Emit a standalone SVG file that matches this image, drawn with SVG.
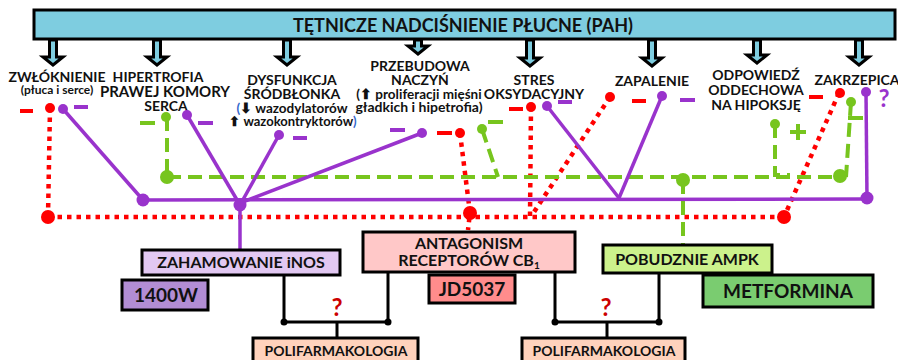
<svg xmlns="http://www.w3.org/2000/svg" width="898" height="360" viewBox="0 0 898 360">
<style>
text{font-family:Lato,"Open Sans","Liberation Sans",sans-serif;font-weight:bold;fill:#111;text-anchor:middle}
.h{font-size:14px}
.b{font-size:19px}
.m{font-size:16px}
.arr{fill:#7ECDE0;stroke:#000;stroke-width:3;stroke-linejoin:miter}
.red{stroke:#FF0000;stroke-width:4.5;stroke-dasharray:4.5 5;fill:none}
.pur{stroke:#9933CC;stroke-width:3.5;fill:none}
.grn{stroke:#77C51E;stroke-width:4;stroke-dasharray:14 7;fill:none}
.rdash{stroke:#FF0000;stroke-width:4}
.pdash{stroke:#9933CC;stroke-width:4}
.gdash{stroke:#77C51E;stroke-width:4}
.rn{fill:#FF0000}
.pn{fill:#9933CC}
.gn{fill:#77C51E}
.box{stroke:#000;stroke-width:3}
.blk{stroke:#000;stroke-width:3;fill:none}
.q{font-size:24px;fill:#CC0000}
.poli{font-size:14px}
</style>

<g id="banner">
<rect x="34" y="10" width="861" height="29" fill="#7ECDE0" stroke="#000" stroke-width="3"/>
<text x="463" y="32" style="font-size:18px">TĘTNICZE NADCIŚNIENIE PŁUCNE (PAH)</text>
</g>

<g id="arrows">
<polygon class="arr" points="49.5,40 56.5,40 56.5,57 63,57 53,65 43,57 49.5,57"/>
<polygon class="arr" points="153.5,40 160.5,40 160.5,57 167,57 157,65 147,57 153.5,57"/>
<polygon class="arr" points="283.5,40 290.5,40 290.5,57 297,57 287,65 277,57 283.5,57"/>
<polygon class="arr" points="414.5,40 421.5,40 421.5,46 428,46 418,54 408,46 414.5,46"/>
<polygon class="arr" points="526.5,40 533.5,40 533.5,58 540,58 530,66 520,58 526.5,58"/>
<polygon class="arr" points="648.5,40 655.5,40 655.5,58 662,58 652,66 642,58 648.5,58"/>
<polygon class="arr" points="753.5,40 760.5,40 760.5,55 767,55 757,63 747,55 753.5,55"/>
<polygon class="arr" points="855.5,40 862.5,40 862.5,57 869,57 859,65 849,57 855.5,57"/>
</g>

<g id="connectors">
<line class="red" x1="48" y1="217" x2="784" y2="217"/>
<line class="red" x1="50" y1="108" x2="48" y2="217"/>
<polyline class="red" points="460,133 470,213 468,230"/>
<line class="red" x1="531" y1="107" x2="530" y2="217"/>
<line class="red" x1="610" y1="97" x2="532" y2="215"/>
<line class="red" x1="839" y1="93" x2="784" y2="217"/>
<line class="grn" x1="167" y1="177" x2="840" y2="177"/>
<line class="grn" x1="167" y1="117" x2="167" y2="177"/>
<line class="grn" x1="482" y1="129" x2="498" y2="177"/>
<polyline class="grn" points="775,124 775,175 790,175"/>
<line class="grn" x1="851" y1="102" x2="846" y2="177" stroke-dasharray="14 6"/>
<line class="gdash" x1="848" y1="118" x2="863" y2="118"/>
<line class="grn" x1="683" y1="180" x2="683" y2="245"/>
<line class="pur" x1="143" y1="200" x2="867" y2="199"/>
<line class="pur" x1="63" y1="109" x2="143" y2="200"/>
<line class="pur" x1="187" y1="115" x2="240" y2="205"/>
<line class="pur" x1="279" y1="135" x2="240" y2="205"/>
<line class="pur" x1="422" y1="133" x2="240" y2="203"/>
<line class="pur" x1="240" y1="205" x2="240" y2="250"/>
<line class="pur" x1="547" y1="106" x2="619" y2="198"/>
<line class="pur" x1="662" y1="96" x2="619" y2="198"/>
<line class="pur" x1="866" y1="92" x2="867" y2="199"/>
<circle class="rn" cx="48" cy="217" r="7"/>
<circle class="rn" cx="470" cy="213" r="7"/>
<circle class="rn" cx="784" cy="217" r="7"/>
<circle class="gn" cx="167" cy="177" r="7"/>
<circle class="gn" cx="683" cy="180" r="7"/>
<circle class="gn" cx="840" cy="176" r="7"/>
<circle class="pn" cx="143" cy="200" r="6.5"/>
<circle class="pn" cx="240" cy="205" r="6.5"/>
<circle class="pn" cx="867" cy="198" r="6.5"/>
<polyline class="blk" points="284,275 284,322 388,322 388,272"/>
<line class="blk" x1="337" y1="322" x2="337" y2="338"/>
<circle cx="284" cy="322" r="3.5"/>
<circle cx="388" cy="322" r="3.5"/>
<polyline class="blk" points="555,272 555,322 659,322 659,273"/>
<line class="blk" x1="607" y1="322" x2="607" y2="338"/>
<circle cx="555" cy="322" r="3.5"/>
<circle cx="659" cy="322" r="3.5"/>
</g>

<g id="zwloknienie">
<text x="57" y="82"><tspan class="h">ZWŁÓKNIENIE</tspan><tspan x="57" dy="12" style="font-size:12px">(płuca i serce)</tspan></text>
<line class="rdash" x1="20" y1="111" x2="33" y2="111"/>
<circle class="rn" cx="50" cy="108" r="5"/>
<circle class="pn" cx="63" cy="109" r="5"/>
<line class="pdash" x1="74" y1="107" x2="88" y2="107"/>
</g>

<g id="hipertrofia">
<text class="h" x="158" y="82">HIPERTROFIA<tspan x="165" dy="15" style="font-size:15px">PRAWEJ KOMORY</tspan><tspan x="166" dy="14">SERCA</tspan></text>
<line class="gdash" x1="140" y1="123" x2="155" y2="123"/>
<circle class="gn" cx="166" cy="117" r="5"/>
<circle class="pn" cx="187" cy="115" r="5"/>
<line class="pdash" x1="198" y1="123" x2="213" y2="123"/>
</g>

<g id="dysfunkcja">
<text class="h" x="292" y="85">DYSFUNKCJA<tspan x="292" dy="14">ŚRÓDBŁONKA</tspan><tspan x="292" dy="14" style="font-size:13.5px"><tspan fill="#3366CC">(</tspan>⬇ wazodylatorów</tspan><tspan x="293" dy="13" style="font-size:13px">⬆ wazokontryktorów<tspan fill="#3366CC">)</tspan></tspan></text>
<circle class="pn" cx="279" cy="135" r="5"/>
<line class="pdash" x1="293" y1="138" x2="307" y2="138"/>
</g>

<g id="przebudowa">
<text class="h" x="420" y="71">PRZEBUDOWA<tspan x="420" dy="14">NACZYŃ</tspan><tspan x="419" dy="14" style="font-size:13.5px">(⬆ proliferacji mięśni</tspan><tspan x="419" dy="13" style="font-size:14px">gładkich i hipetrofia)</tspan></text>
<line class="pdash" x1="390" y1="130" x2="405" y2="130"/>
<circle class="pn" cx="422" cy="133" r="5"/>
<line class="rdash" x1="437" y1="133" x2="452" y2="133"/>
<circle class="rn" cx="460" cy="133" r="5"/>
<circle class="gn" cx="482" cy="129" r="5"/>
<line class="gdash" x1="488" y1="122" x2="503" y2="122"/>
</g>

<g id="stres">
<text class="h" x="534" y="85">STRES<tspan x="534" dy="14">OKSYDACYJNY</tspan></text>
<line class="rdash" x1="509" y1="109" x2="523" y2="109"/>
<circle class="rn" cx="531" cy="107" r="5"/>
<circle class="pn" cx="547" cy="106" r="5"/>
<line class="pdash" x1="558" y1="102" x2="572" y2="102"/>
</g>

<g id="zapalenie">
<text class="h" x="652" y="86">ZAPALENIE</text>
<circle class="rn" cx="610" cy="97" r="5"/>
<line class="rdash" x1="632" y1="101" x2="646" y2="101"/>
<circle class="pn" cx="662" cy="96" r="5"/>
<line class="pdash" x1="680" y1="100" x2="695" y2="100"/>
</g>

<g id="odpowiedz">
<text class="h" x="756" y="80">ODPOWIEDŹ<tspan x="756" dy="15">ODDECHOWA</tspan><tspan x="756" dy="15">NA HIPOKSJĘ</tspan></text>
<circle class="gn" cx="775" cy="124" r="5"/>
<path class="gdash" d="M790,132 H806 M798,124 V140"/>
</g>

<g id="zakrzepica">
<text class="h" x="857" y="85">ZAKRZEPICA</text>
<line class="rdash" x1="809" y1="97" x2="823" y2="97"/>
<circle class="rn" cx="840" cy="93" r="5"/>
<circle class="gn" cx="851" cy="102" r="5"/>
<circle class="pn" cx="866" cy="92" r="5"/>
<text x="884" y="107" style="font-size:24px;fill:#9933CC">?</text>
</g>

<g id="zahamowanie">
<rect class="box" x="142" y="250" width="198" height="25" fill="#E2C8F2"/>
<text class="m" x="241" y="268">ZAHAMOWANIE iNOS</text>
</g>
<g id="w1400">
<rect class="box" x="122" y="280" width="86" height="30" fill="#B28DD4"/>
<text class="b" x="166" y="302">1400W</text>
</g>

<g id="antagonism">
<rect class="box" x="363" y="232" width="212" height="40" fill="#FFC8C8"/>
<text class="m" x="469" y="249">ANTAGONISM<tspan x="469" dy="17">RECEPTORÓW CB</tspan><tspan style="font-size:10px" dy="3">1</tspan></text>
</g>
<g id="jd5037">
<rect class="box" x="429" y="275" width="86" height="28" fill="#FF8C8C"/>
<text class="b" x="472" y="296">JD5037</text>
</g>

<g id="ampk">
<rect class="box" x="603" y="245" width="169" height="28" fill="#CCF28C"/>
<text class="m" x="687" y="265">POBUDZNIE AMPK</text>
</g>
<g id="metformina">
<rect class="box" x="703" y="275" width="170" height="32" fill="#7ACC70"/>
<text class="b" x="788" y="298">METFORMINA</text>
</g>

<g id="poli1">
<rect class="box" x="253" y="338" width="165" height="26" fill="#FFD2BC"/>
<text class="poli" x="336" y="356">POLIFARMAKOLOGIA</text>
<text class="q" x="337" y="316">?</text>
</g>
<g id="poli2">
<rect class="box" x="522" y="338" width="163" height="26" fill="#FFD2BC"/>
<text class="poli" x="604" y="356">POLIFARMAKOLOGIA</text>
<text class="q" x="606" y="316">?</text>
</g>
</svg>
